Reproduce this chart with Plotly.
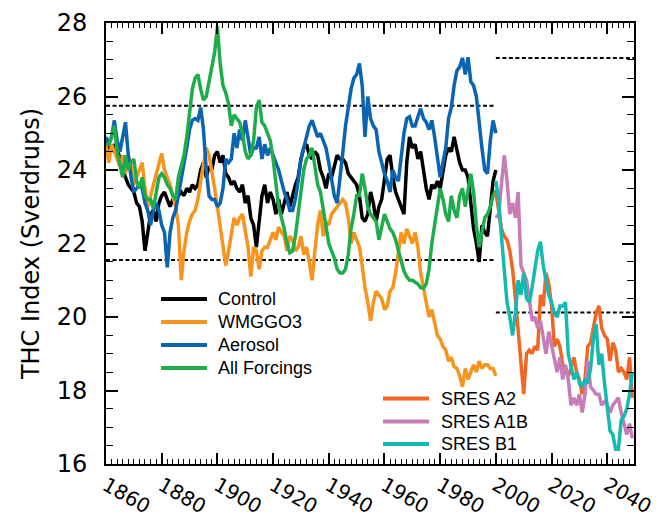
import plotly.graph_objects as go

# ---------------- data ----------------
hist_years = list(range(1860, 2001))
sres_years = list(range(2000, 2050))

control = [
    24.8, 24.6, 24.5, 24.7, 24.6, 24.3, 24.0, 23.8, 23.6, 23.5,
    23.4, 23.1, 23.0, 22.6, 21.8, 22.3, 22.8, 22.9, 22.6, 23.1,
    23.3, 23.4, 23.2, 23.0, 23.2, 23.1, 23.3, 23.4, 23.3, 23.5,
    23.4, 23.6, 23.5, 23.6, 24.0, 24.2, 23.8, 24.1, 24.0, 24.4,
    24.5, 24.2, 24.4, 23.9, 23.8, 23.6, 23.7, 23.5, 23.4, 23.6,
    23.1, 23.3, 22.7, 22.5, 21.9, 22.6, 23.3, 23.6, 23.1, 23.4,
    23.2, 22.8, 23.2, 22.8, 23.1, 23.4, 23.0, 23.3, 23.6, 23.8,
    24.3, 24.6, 24.7, 24.4, 24.3, 24.5, 24.4, 24.0, 23.8, 23.5,
    23.9, 23.8, 24.1, 24.4, 24.3, 24.3, 24.2, 23.9, 23.8, 23.7,
    23.6, 23.3, 22.7, 22.6, 22.8, 23.4, 23.1, 22.6, 23.0, 23.2,
    23.7, 24.3, 24.4, 23.8, 23.4, 23.2, 23.0, 22.8, 24.2, 24.9,
    24.6, 24.7, 24.3, 24.5, 24.0, 23.5, 23.2, 23.6, 23.5, 23.7,
    23.5, 24.0, 24.4, 24.6, 24.5, 24.9, 24.5, 24.2, 24.0, 24.0,
    23.8, 23.1, 22.4, 22.0, 21.5, 22.5, 22.3, 22.2, 22.9, 23.7,
    24.0,
]

wmggo3 = [
    24.7, 24.2, 24.7, 24.5, 24.3, 24.1, 24.4, 23.9, 24.4, 24.1,
    23.6, 23.8, 24.0, 24.2, 23.5, 23.0, 23.3, 23.6, 23.9, 24.2,
    24.45, 24.0, 23.8, 23.6, 23.3, 23.0, 22.5, 21.0, 21.8, 22.3,
    22.6, 22.8, 22.9, 23.2, 23.7, 24.2, 24.6, 24.4, 24.0, 23.5,
    23.0, 22.5, 22.0, 21.4, 21.8, 22.3, 22.7, 22.5, 22.7, 22.8,
    22.4, 21.9, 21.1, 21.9, 21.8, 21.3, 21.8, 21.9, 21.9, 22.1,
    22.3, 22.1, 22.45, 22.3, 22.2, 21.8, 22.2, 22.1, 21.8, 21.9,
    22.2, 21.7, 21.9, 21.5, 21.0, 21.8, 22.5, 22.9, 22.2, 22.6,
    22.5, 22.8, 22.9, 23.0, 23.1, 23.2, 23.1, 22.7, 22.0, 22.3,
    22.1, 21.9, 21.4, 20.8, 20.4, 19.9, 20.4, 20.7, 20.6, 20.5,
    20.2, 20.3, 20.7, 20.8, 21.2, 21.8, 22.3, 22.0, 22.4, 22.2,
    22.0, 22.3, 21.9, 21.2, 20.8, 20.3, 20.0, 20.2, 19.8, 19.5,
    19.4, 19.2, 19.1, 18.8, 18.9, 18.65, 18.6, 18.4, 18.1, 18.6,
    18.3, 18.5, 18.7, 18.5, 18.8, 18.6, 18.7, 18.7, 18.6, 18.6,
    18.4,
]

aerosol = [
    24.9, 24.7, 24.9, 25.35, 24.8, 24.5, 24.9, 25.3, 24.4, 23.8,
    23.4, 23.5, 23.6, 23.5, 23.1, 22.9, 22.5, 22.9, 23.1, 22.9,
    22.5, 22.3, 21.35, 22.3, 22.7, 22.9, 23.3, 23.7, 24.2, 24.6,
    25.1, 25.35, 25.4, 25.35, 25.7, 25.1, 24.0, 23.3, 23.2, 23.2,
    23.0, 23.1, 23.5, 24.3, 24.2, 24.3, 25.0, 24.6, 25.1, 24.8,
    25.35, 24.8, 24.4, 24.6, 24.6, 24.9, 24.3, 24.7, 24.4, 24.6,
    24.4, 24.2, 24.0, 23.7, 23.4, 23.2, 22.9, 22.9, 23.2, 23.7,
    24.3, 24.6, 24.9, 25.2, 25.35, 25.1, 24.9, 25.0, 24.8, 24.6,
    24.2, 23.8, 23.3, 23.1, 23.7, 24.45, 25.2, 25.7, 26.2, 26.5,
    26.6, 26.9, 26.3, 24.9, 26.0, 25.4, 25.2, 25.1, 24.5, 24.2,
    23.9, 23.7, 23.4, 24.0, 23.8, 23.7, 24.4, 25.0, 25.4, 25.45,
    25.2, 25.2, 25.45, 25.67, 25.4, 25.3, 25.1, 25.35, 24.9, 24.4,
    23.8, 24.2, 24.6, 25.4, 25.7, 26.3, 26.7, 26.8, 27.05, 26.6,
    27.07, 26.4, 26.3, 26.0, 25.2, 24.6, 24.0, 23.9, 24.8, 25.35,
    25.0,
]

all_forcings = [
    24.7, 24.7, 24.9, 25.2, 24.5, 24.1, 23.8, 24.4, 24.0, 24.2,
    24.3, 23.7, 23.5, 23.8, 23.3, 23.2, 23.2, 22.95, 23.4, 23.8,
    23.9, 23.8, 23.6, 23.5, 23.3, 23.2, 23.8, 24.1, 24.4, 24.9,
    25.5, 26.2, 26.5, 26.6, 26.2, 25.9, 26.0, 26.4, 26.8, 27.2,
    27.9, 26.9, 26.3, 26.1, 25.8, 25.2, 25.5, 25.4, 25.3, 25.0,
    24.5, 24.3, 24.4, 24.8, 25.7, 25.9, 25.3, 25.2, 25.0, 24.8,
    24.3, 23.7, 23.0, 22.7, 22.4, 22.0, 21.75, 21.8, 22.2, 22.8,
    23.5, 24.0, 24.3, 24.4, 24.6, 24.1, 23.6, 23.4, 22.9, 22.5,
    22.0, 21.8, 21.6, 21.3, 21.2, 21.2, 21.3, 21.7, 22.4, 22.8,
    23.3, 23.3, 23.9, 23.5, 23.0, 22.8, 22.7, 22.6, 22.1, 22.5,
    22.8, 22.6, 22.4, 22.3, 22.1, 21.8, 21.5, 21.25, 21.1, 21.0,
    21.0, 20.95, 20.9, 20.8, 20.78, 20.9, 21.3, 22.0, 22.5, 22.9,
    23.5, 23.2, 22.8, 22.6, 23.3, 22.9, 22.7, 23.3, 23.5, 23.0,
    23.4, 23.9, 23.4, 22.5, 21.9, 22.3, 22.7, 22.8, 23.0, 23.3,
    23.45,
]

sres_a2 = [
    23.4, 22.9, 22.4, 22.2, 22.1, 21.8, 21.3, 20.5, 19.6, 18.8,
    17.9, 19.0, 19.1, 19.0, 19.2, 19.1, 20.6, 20.3, 21.2, 20.9,
    20.3, 19.2, 19.4, 19.2, 18.7, 18.6, 18.4, 18.6, 18.9, 18.5,
    18.3, 17.9, 18.3, 19.2, 19.3, 19.7, 20.1, 20.3, 19.7, 19.5,
    19.4, 18.8, 19.3, 19.1, 18.5, 18.6, 18.5, 18.3, 18.9, 17.8,
]

sres_a1b = [
    22.7, 22.8, 23.6, 24.4, 23.7, 22.8, 23.1, 22.7, 23.4, 21.4,
    21.2, 21.0, 20.5, 19.9, 20.0, 19.7, 19.9, 19.4, 19.0, 19.6,
    19.2, 18.8, 18.5, 18.9, 18.3, 18.7, 18.3, 17.6, 17.8, 17.6,
    17.9, 17.4, 17.9, 18.8, 18.1, 18.0, 17.9, 17.9, 17.6, 17.7,
    17.6, 17.4, 17.6, 17.7, 17.8, 17.4, 17.1, 16.8, 17.1, 16.7,
]

sres_b1 = [
    23.7, 23.2, 22.2, 21.2, 20.4, 20.0, 19.5, 20.1, 21.0, 20.6,
    21.2, 20.5, 20.4, 20.8, 21.3, 21.8, 22.05, 21.4, 21.0, 20.6,
    20.4, 20.1, 20.0, 20.3, 20.3, 20.4, 19.0, 18.6, 18.3, 18.5,
    18.2, 18.1, 18.3, 18.2, 18.6, 19.4, 19.8, 18.7, 19.0, 18.2,
    17.5, 16.9, 16.8, 16.4, 16.4, 17.2, 17.3, 17.5, 17.9, 18.5,
]

# reference (dashed) levels: start year, end year, level
ref_start = [1860, 1860, 2000, 2000]
ref_end = [2000, 2000, 2049.6, 2049.6]
ref_level = [25.75, 21.55, 27.05, 20.12]

x_tick_vals = [1860, 1880, 1900, 1920, 1940, 1960, 1980, 2000, 2020, 2040]
x_tick_text = ["1860", "1880", "1900", "1920", "1940", "1960", "1980", "2000", "2020", "2040"]
y_tick_vals = [16, 18, 20, 22, 24, 26, 28]

hist_names = ["Control", "WMGGO3", "Aerosol", "All Forcings"]
sres_names = ["SRES A2", "SRES A1B", "SRES B1"]

# ---------------- styles ----------------
hist_colors = ["#000000", "#F7941E", "#0A64B2", "#1FAD4B"]
sres_colors = ["#F26522", "#C77CB7", "#14BAB0"]
LW = 3.5

fig = go.Figure()

for x0, x1, lvl in zip(ref_start, ref_end, ref_level):
    fig.add_trace(go.Scatter(x=[x0, x1], y=[lvl, lvl], mode="lines",
                             line=dict(color="black", width=2, dash="4px,2.5px"),
                             hoverinfo="skip", showlegend=False))

for name, vals, col in zip(hist_names, [control, wmggo3, aerosol, all_forcings], hist_colors):
    fig.add_trace(go.Scatter(x=hist_years, y=vals, mode="lines", name=name,
                             line=dict(color=col, width=LW), showlegend=False))

for name, vals, col in zip(sres_names, [sres_a2, sres_a1b, sres_b1], sres_colors):
    fig.add_trace(go.Scatter(x=sres_years, y=vals, mode="lines", name=name,
                             line=dict(color=col, width=LW), showlegend=False))

# ---------------- manual legends ----------------
L, R, T, B = 106, 634, 23, 464
def px2paper(px, py):
    return (px - L) / (R - L), (B - py) / (B - T)

shapes = []
annotations = []
def legend_block(names, colors, x_line0, x_line1, x_text, rows):
    for name, col, py in zip(names, colors, rows):
        xa, ya = px2paper(x_line0, py)
        xb, _ = px2paper(x_line1, py)
        xt, _ = px2paper(x_text, py)
        shapes.append(dict(type="line", xref="paper", yref="paper", x0=xa, x1=xb, y0=ya, y1=ya,
                           line=dict(color=col, width=4)))
        annotations.append(dict(xref="paper", yref="paper", x=xt, y=ya, text=name, showarrow=False,
                                xanchor="left", yanchor="middle",
                                font=dict(family="Liberation Sans, Arial, sans-serif", size=18, color="black")))

legend_block(hist_names, hist_colors, 161, 207, 216, [299, 322, 345, 368])
legend_block(sres_names, sres_colors, 383, 429, 439, [398.5, 421.5, 444])

tick_font = dict(family="DejaVu Sans, sans-serif", size=20, color="black")
fig.update_layout(
    width=666, height=517,
    margin=dict(l=106, r=32, t=23, b=53, autoexpand=False),
    plot_bgcolor="white", paper_bgcolor="white",
    showlegend=False,
    shapes=shapes, annotations=annotations,
    font=dict(family="Liberation Sans, Arial, sans-serif", color="black"),
    xaxis=dict(
        range=[1860, 2049.6], tickmode="array", tickvals=x_tick_vals, ticktext=x_tick_text,
        ticks="inside", ticklen=11, tickwidth=1.5, tickcolor="black",
        showline=True, linewidth=2, linecolor="black", mirror="ticks",
        showgrid=False, zeroline=False, tickangle=30, tickfont=tick_font,
        ticklabelstandoff=0, automargin=False,
        minor=dict(dtick=2, tick0=1860, ticks="inside", ticklen=5, tickwidth=1, tickcolor="black", showgrid=False),
    ),
    yaxis=dict(
        range=[16, 28], tickmode="array", tickvals=y_tick_vals,
        ticks="inside", ticklen=12, tickwidth=1.5, tickcolor="black",
        showline=True, linewidth=2, linecolor="black", mirror="ticks",
        showgrid=False, zeroline=False, automargin=False,
        tickfont=dict(family="DejaVu Sans, sans-serif", size=24, color="black"),
        ticklabelstandoff=12,
        minor=dict(dtick=0.5, tick0=16, ticks="inside", ticklen=7, tickwidth=1, tickcolor="black", showgrid=False),
        title=dict(text="THC Index (Sverdrups)", standoff=10,
                   font=dict(family="DejaVu Sans, sans-serif", size=24, color="black")),
    ),
)

fig.write_html("out.html", config={"displayModeBar": False},
               post_script="document.body.style.margin='0';document.body.style.overflow='hidden';")
